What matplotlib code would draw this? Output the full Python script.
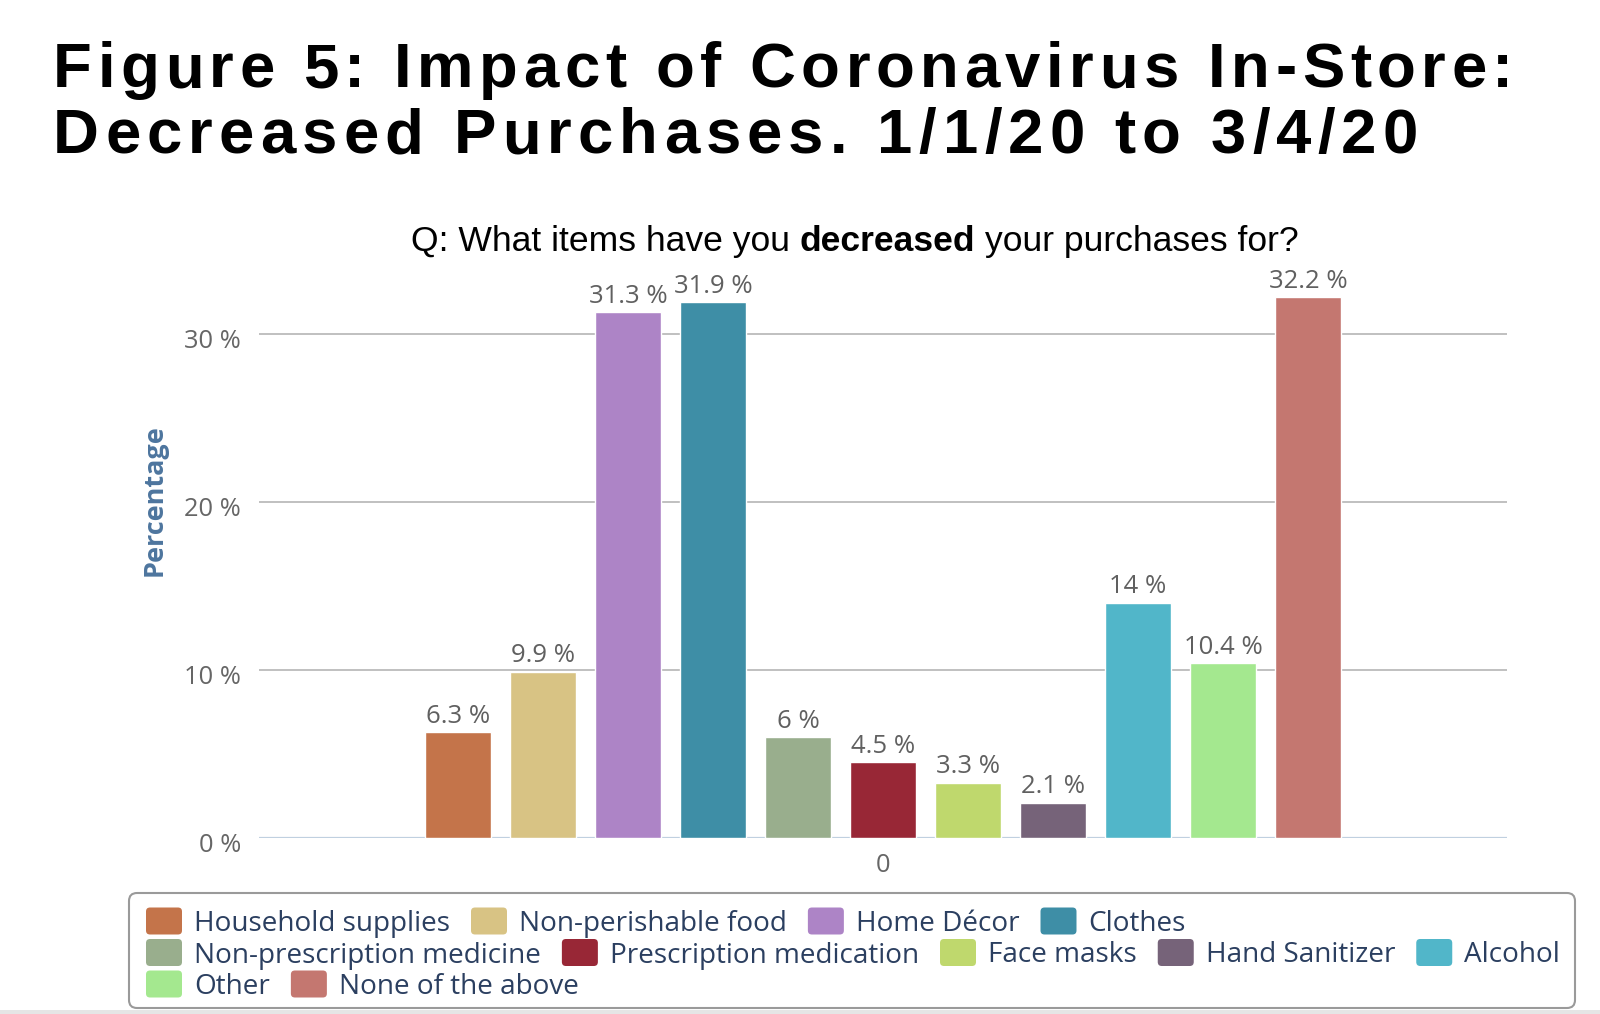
import matplotlib
matplotlib.use("Agg")
import matplotlib.pyplot as plt
from matplotlib.font_manager import FontProperties
from matplotlib.patches import FancyBboxPatch, Rectangle
from matplotlib.transforms import IdentityTransform, ScaledTranslation

# ---------------- data ----------------
categories = ["Household supplies", "Non-perishable food", "Home Décor", "Clothes",
              "Non-prescription medicine", "Prescription medication", "Face masks",
              "Hand Sanitizer", "Alcohol", "Other", "None of the above"]
values = [6.3, 9.9, 31.3, 31.9, 6, 4.5, 3.3, 2.1, 14, 10.4, 32.2]
colors = ["#c4744a", "#d8c384", "#ad84c6", "#3e8ea6", "#99ae8d", "#982736",
          "#bfd86d", "#766379", "#51b6c9", "#a4e88f", "#c47770"]
x_category = ["0"]
y_ticks = [0, 10, 20, 30]
title_lines = ["Figure 5: Impact of Coronavirus In-Store:",
               "Decreased Purchases. 1/1/20 to 3/4/20"]
subtitle_parts = [("Q: What items have you", "normal"), ("decreased", "bold"),
                  ("your purchases for?", "normal")]
y_title = "Percentage"
legend_rows = [4, 5, 2]

plt.rcParams["font.family"] = ["Open Sans", "DejaVu Sans"]

W, H = 1600, 1014
fig = plt.figure(figsize=(W / 100, H / 100), dpi=100)
fig.patch.set_facecolor("white")
renderer = fig.canvas.get_renderer()


def fx(px):
    return px / W


def fy(py):
    return 1 - py / H


def tw(s, prop):
    if not s:
        return 0.0
    w, h, d = renderer.get_text_width_height_descent(s, prop, ismath=False)
    return w


# ---------------- title (letter-spaced) ----------------
title_prop = FontProperties(family=["Liberation Sans", "DejaVu Sans"], weight="bold", size=45.7)
for line, (x0, base, right) in zip(title_lines, [(53, 87, 1513), (53, 153, 1418)]):
    n = len(line)
    natural = tw(line, title_prop)
    extra = (right - x0 - natural) / (n - 1)
    for i, ch in enumerate(line):
        if ch == " ":
            continue
        xr = x0 + tw(line[:i + 1], title_prop) + i * extra
        fig.text(fx(xr), fy(base), ch, fontproperties=title_prop,
                 ha="right", va="baseline", color="black")

# ---------------- subtitle ----------------
base_size = 26
props = {wt: FontProperties(family=["Liberation Sans", "DejaVu Sans"], weight=wt, size=base_size)
         for wt in ("normal", "bold")}
sp = tw("x x", props["normal"]) - tw("xx", props["normal"])
total = sum(tw(t, props[w]) for t, w in subtitle_parts) + sp * (len(subtitle_parts) - 1)
scale = 887 / total
props = {wt: FontProperties(family=["Liberation Sans", "DejaVu Sans"], weight=wt,
                            size=base_size * scale) for wt in ("normal", "bold")}
sp *= scale
x = 411
for t, w in subtitle_parts:
    fig.text(fx(x), fy(251), t, fontproperties=props[w], ha="left", va="baseline", color="black")
    x += tw(t, props[w]) + sp

# ---------------- axes ----------------
ax_left, ax_right = 259, 1507
ax = fig.add_axes([ax_left / W, (H - 838) / H, (ax_right - ax_left) / W, 554.4 / H])
ax.set_facecolor("none")
ax.set_xlim(-0.5, 0.5)
ax.set_ylim(0, 33)
for s in ax.spines.values():
    s.set_visible(False)
ax.set_axisbelow(True)
ax.yaxis.grid(True, color="#C0C0C0", lw=1.4)
ax.axhline(0, color="#C0D0E0", lw=1.6, zorder=2)

pitch = 85 / (ax_right - ax_left)
bw = 65.3 / (ax_right - ax_left)
n = len(values)
xs = [(i - (n - 1) / 2) * pitch for i in range(n)]
ax.bar(xs, values, width=bw, color=colors, edgecolor="white", linewidth=1, zorder=3)
for xv, v in zip(xs, values):
    ax.annotate(f"{v:g} %", (xv, v), xytext=(0, 6.8), textcoords="offset points",
                ha="center", va="baseline", fontsize=18.5, color="#606060", zorder=4)

ax.set_yticks(y_ticks)
ax.set_yticklabels([f"{v:g} %" for v in y_ticks])
ax.tick_params(axis="y", length=0, pad=13, labelsize=18.4, labelcolor="#666666")
for lbl in ax.get_yticklabels():
    lbl.set_transform(lbl.get_transform() + ScaledTranslation(0, -4 / 100, fig.dpi_scale_trans))
ax.set_xticks([0])
ax.set_xticklabels(x_category)
ax.tick_params(axis="x", length=0, pad=11, labelsize=18.4, labelcolor="#666666")

# y-axis title
yt_prop = FontProperties(family=["Open Sans", "DejaVu Sans"], weight="bold", size=19)
yt_prop.set_size(19 * 151 / tw(y_title, yt_prop))
fig.text(fx(155), fy(500), y_title, fontproperties=yt_prop, rotation=90,
         ha="center", va="center", color="#4d759e")

# ---------------- legend ----------------
fig.add_artist(FancyBboxPatch((129, H - 1008), 1446, 115,
                              boxstyle="round,pad=0,rounding_size=8",
                              fc="white", ec="#9a9a9a", lw=1.5,
                              transform=IdentityTransform()))
leg_prop = FontProperties(family=["Open Sans", "DejaVu Sans"], size=20.1)
row_centers = [921, 952.5, 984]
idx = 0
for r, count in enumerate(legend_rows):
    x = 146
    yc = row_centers[r]
    for k in range(count):
        name = categories[idx]
        fig.add_artist(FancyBboxPatch((x, H - (yc + 13.5)), 36, 27,
                                      boxstyle="round,pad=0,rounding_size=4",
                                      fc=colors[idx], ec="none",
                                      transform=IdentityTransform()))
        fig.text(fx(x + 48), fy(yc + 10), name, fontproperties=leg_prop,
                 ha="left", va="baseline", color="#2b3f60")
        x = x + 48 + tw(name, leg_prop) + 21
        idx += 1

# bottom strip
fig.add_artist(Rectangle((0, 0), W, 4, fc="#e5e5e5", ec="none", transform=IdentityTransform()))

fig.savefig("out.png", dpi=100)
